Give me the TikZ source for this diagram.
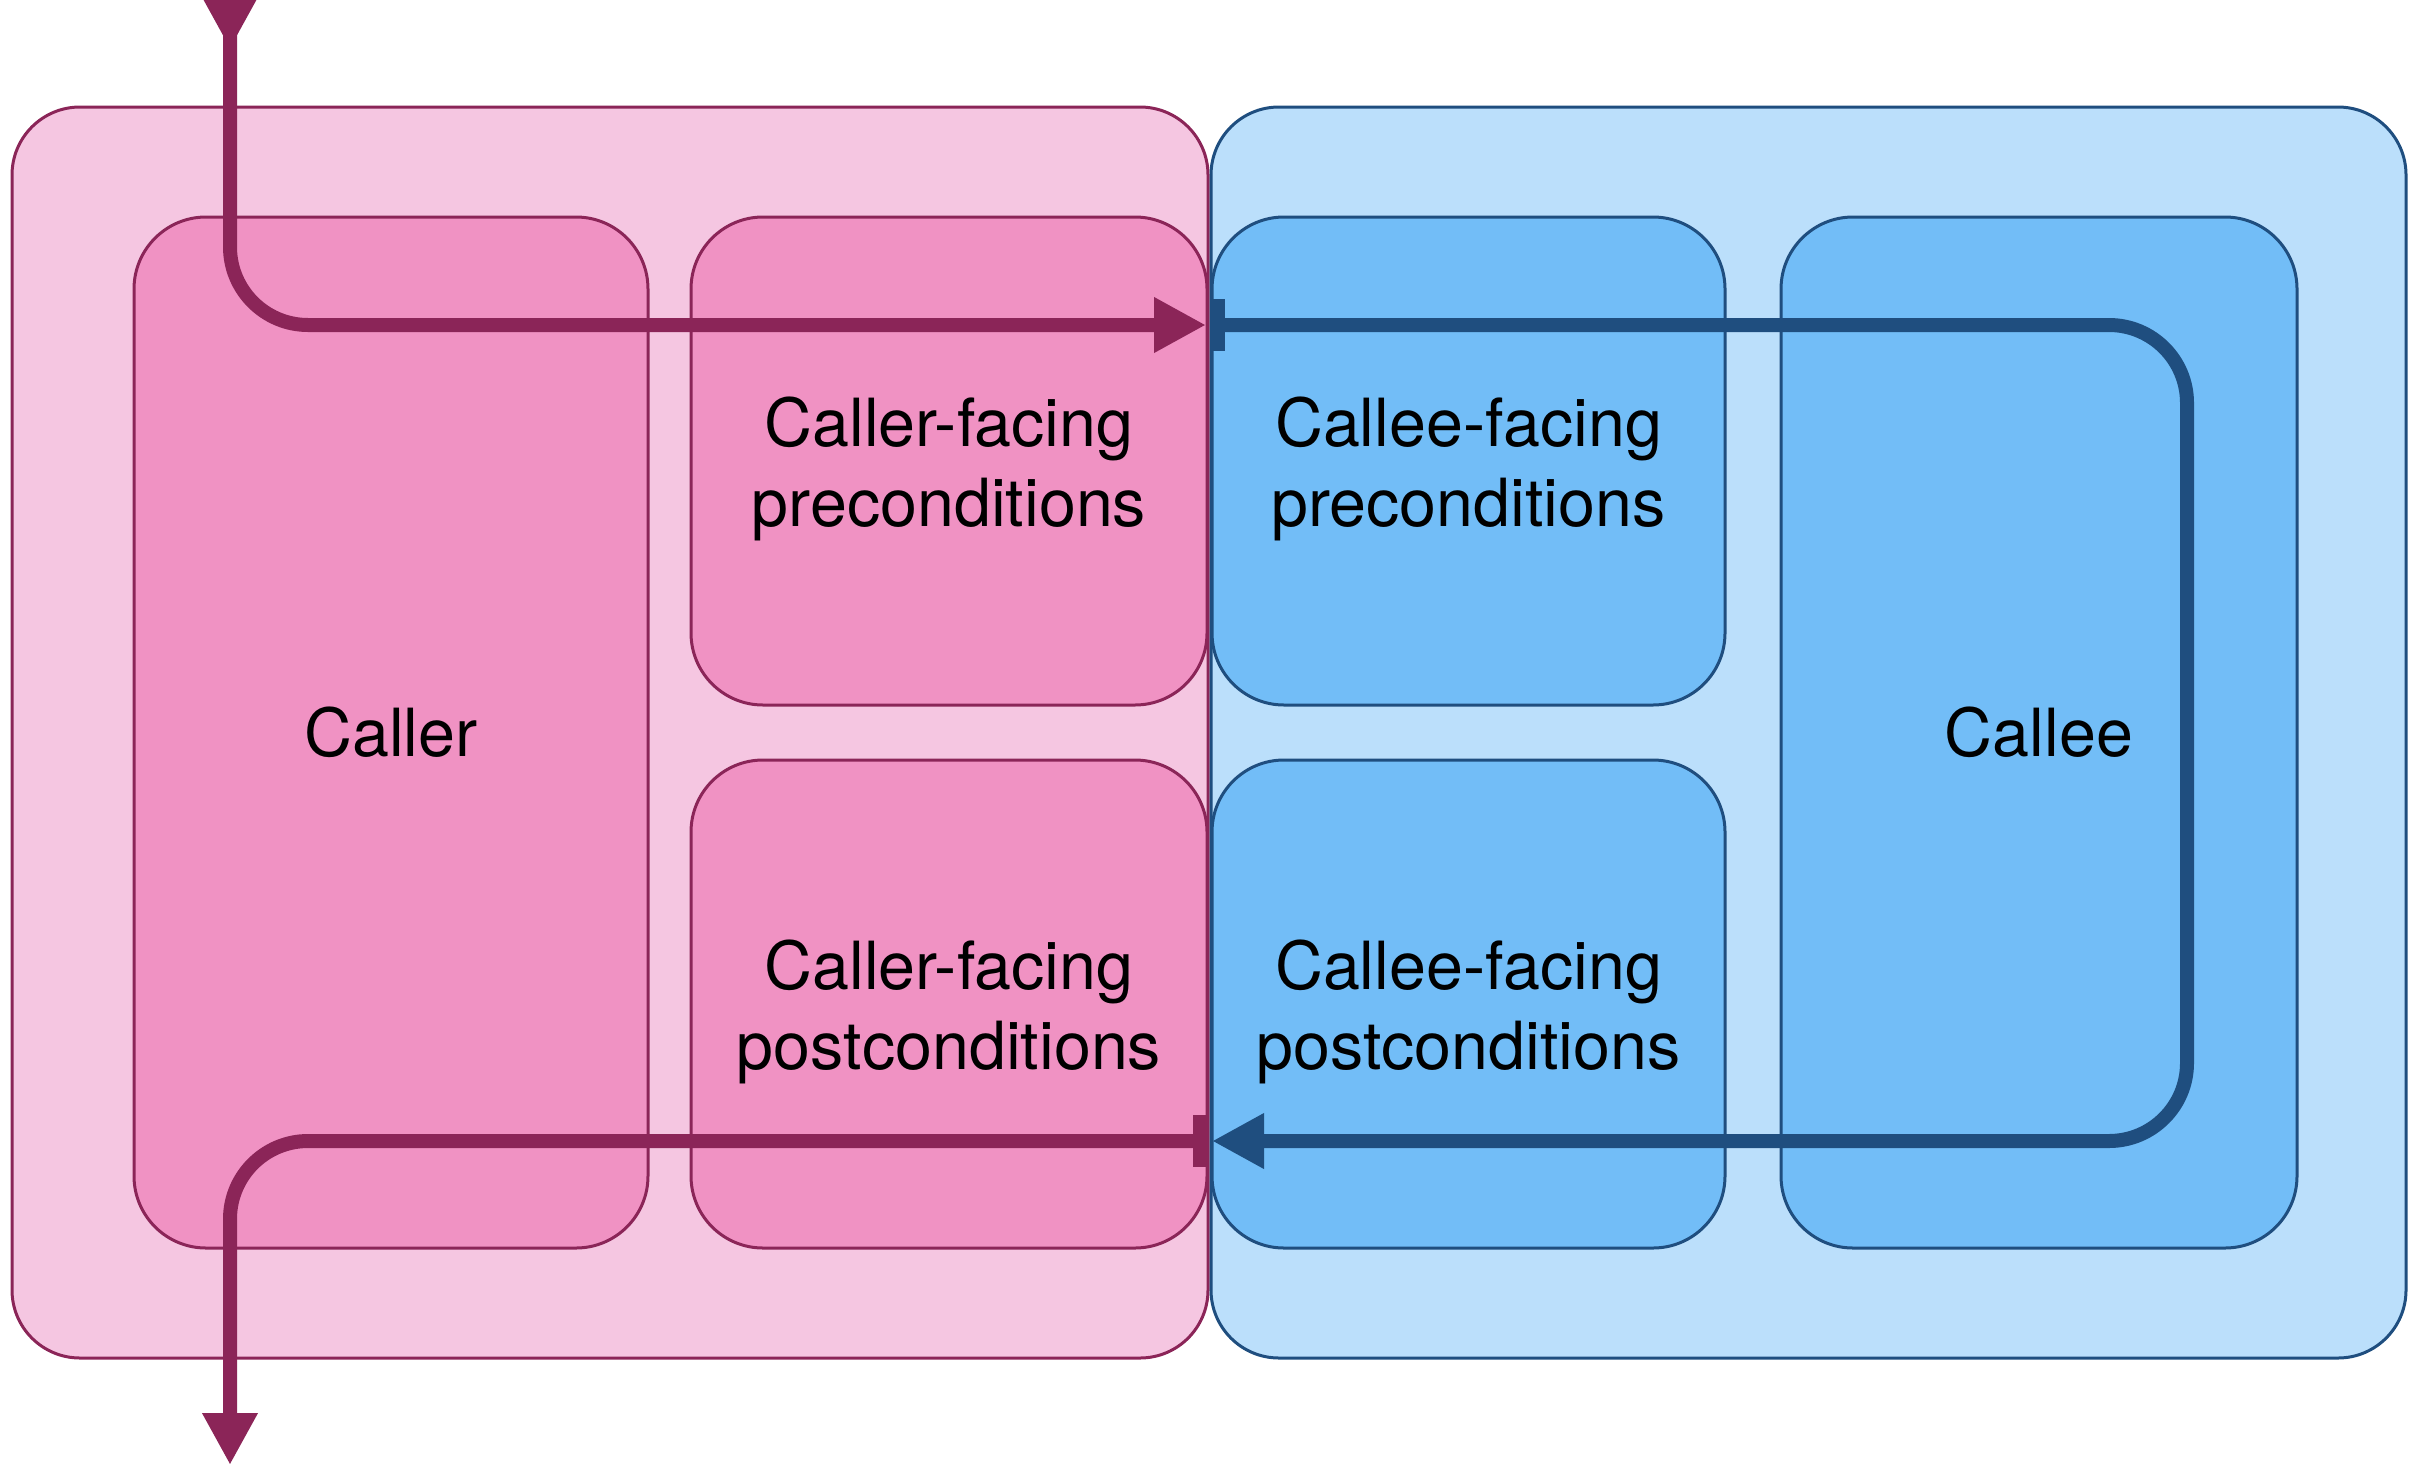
\documentclass[tikz,border=0pt]{standalone}
\usepackage{fontspec}
\setmainfont{TeX Gyre Heros}
\usetikzlibrary{arrows.meta}
\definecolor{pinkdark}{HTML}{8B2558}
\definecolor{pinkouter}{HTML}{F5C6E1}
\definecolor{pinkinner}{HTML}{F092C3}
\definecolor{bluedark}{HTML}{1F4E7F}
\definecolor{blueouter}{HTML}{BBDFFB}
\definecolor{blueinner}{HTML}{72BDF7}
\newcommand{\topstrut}{\rule{0pt}{33pt}}
\begin{document}
\begin{tikzpicture}[x=0.5pt,y=-0.5pt,
  box/.style={rectangle, inner sep=0pt, outer sep=0pt, line width=1.5pt, align=center,
    font=\fontsize{33.2}{39.8}\selectfont},
  outerbox/.style={box, rounded corners=34pt},
  innerbox/.style={box, rounded corners=36pt},
  pinkout/.style={outerbox, draw=pinkdark, fill=pinkouter},
  blueout/.style={outerbox, draw=bluedark, fill=blueouter},
  pinkin/.style={innerbox, draw=pinkdark, fill=pinkinner},
  bluein/.style={innerbox, draw=bluedark, fill=blueinner},
  flow/.style={line width=7pt, rounded corners=39pt},
]
\useasboundingbox (0,0) rectangle (2418,1467);
% outer regions
\node[pinkout, minimum width=598pt, minimum height=625.5pt] (callerside) at (610,732.5) {};
\node[blueout, minimum width=597.5pt, minimum height=625.5pt] (calleeside) at (1808.5,732.5) {};
% inner boxes
\node[pinkin, minimum width=257pt, minimum height=515.5pt] (caller) at (391,732.5) {Caller};
\node[pinkin, minimum width=258pt, minimum height=244pt] (callerpre) at (949,461) {\topstrut Caller-facing\\preconditions};
\node[pinkin, minimum width=258pt, minimum height=244pt] (callerpost) at (949,1004) {\topstrut Caller-facing\\postconditions};
\node[bluein, minimum width=256.5pt, minimum height=244pt] (calleepre) at (1468.5,461) {\topstrut Callee-facing\\preconditions};
\node[bluein, minimum width=256.5pt, minimum height=244pt] (calleepost) at (1468.5,1004) {\topstrut Callee-facing\\postconditions};
\node[bluein, minimum width=258pt, minimum height=515.5pt] (callee) at (2039,732.5) {Callee};
% connector points
\coordinate (topin) at (230,-3);
\coordinate (pretip) at (1206,325);
\coordinate (bstart) at (1211,325);
\coordinate (bturn) at (2187,1141);
\coordinate (btip) at (1212,1141);
\coordinate (pstart) at (1207,1141);
\coordinate (bottomout) at (230,1465);
% flows
\draw[flow, pinkdark, {Triangle[reversed,length=26pt,width=26pt]}-{Triangle[length=26pt,width=26pt]}]
  (topin) |- (pretip);
\draw[flow, bluedark, {Rectangle[length=7pt,width=26pt]}-{Triangle[length=26pt,width=26pt]}]
  (bstart) -| (bturn) -- (btip);
\draw[flow, pinkdark, {Rectangle[length=7pt,width=26pt]}-{Triangle[length=26pt,width=26pt]}]
  (pstart) -| (bottomout);
\end{tikzpicture}
\end{document}
